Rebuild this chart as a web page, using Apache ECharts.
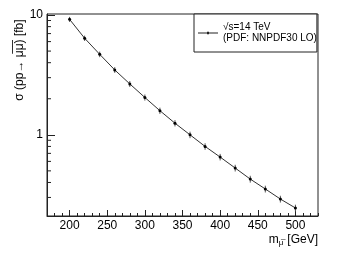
<!DOCTYPE html>
<html>
<head>
<meta charset="utf-8">
<script src="https://cdn.jsdelivr.net/npm/echarts@6/dist/echarts.min.js"></script>
<style>
html,body{margin:0;padding:0;background:#fff;}
#c{width:339px;height:254px;}
</style>
</head>
<body>
<div id="c"></div>
<script>
const massPoints = [200,220,240,260,280,300,320,340,360,380,400,420,440,460,480,500];
const sigma = [9.2,6.4,4.70,3.48,2.66,2.05,1.59,1.25,1.00,0.80,0.652,0.528,0.427,0.353,0.291,0.245];
const sigmaErr = [0.45,0.33,0.25,0.19,0.15,0.12,0.095,0.075,0.062,0.05,0.041,0.034,0.028,0.023,0.019,0.016];
const xTicks = [200,250,300,350,400,450,500];
const yTicks = [1,10];
const yMinorTicks = [0.3,0.4,0.5,0.6,0.7,0.8,0.9,2,3,4,5,6,7,8,9];
const legendLines = ['√s=14 TeV','(PDF: NNPDF30 LO)'];
const seriesName = 'sqrt(s)=14 TeV';

const FONT = "'Liberation Sans', Arial, Helvetica, sans-serif";
const X_MIN = 170, X_MAX = 530, Y_MIN = 0.21, Y_MAX = 10.2;

const chart = echarts.init(document.getElementById('c'), null, {renderer:'canvas'});
chart.setOption({
  animation:false,
  backgroundColor:'#fff',
  textStyle:{fontFamily:FONT},
  grid:{left:47, top:14, right:21, bottom:38, show:true, borderColor:'#222', borderWidth:1, containLabel:false},
  xAxis:[{
    type:'value', min:X_MIN, max:X_MAX,
    axisLine:{show:true, onZero:false, lineStyle:{color:'#222', width:1}},
    axisTick:{show:true, inside:true, length:6, customValues:xTicks, lineStyle:{color:'#222'}},
    axisLabel:{show:true, customValues:xTicks, color:'#000', fontSize:12, fontFamily:FONT, margin:4},
    splitLine:{show:false},
    name:'m{sub|μ̅}{sp| }[GeV]',
    nameLocation:'end', nameGap:0,
    nameTextStyle:{color:'#000', fontSize:12, fontFamily:FONT, align:'right', verticalAlign:'top', padding:[17,0,0,0],
      rich:{sub:{fontSize:8, fontFamily:FONT, color:'#000', padding:[6,0,0,0]}, sp:{fontSize:12, width:4}}}
  },{
    type:'value', min:X_MIN, max:X_MAX, interval:10, position:'bottom',
    axisLine:{show:false},
    axisTick:{show:true, inside:true, length:3, lineStyle:{color:'#222'}},
    axisLabel:{show:false}, splitLine:{show:false}
  }],
  yAxis:{
    type:'log', logBase:10, min:Y_MIN, max:Y_MAX,
    axisLine:{show:true, onZero:false, lineStyle:{color:'#222', width:1}},
    axisTick:{show:true, inside:true, length:8, customValues:yTicks, lineStyle:{color:'#222'}},
    axisLabel:{show:true, customValues:yTicks, color:'#000', fontSize:12, fontFamily:FONT, margin:4},
    splitLine:{show:false}, minorTick:{show:false}
  },
  legend:{
    show:true, left:194, top:14, orient:'vertical',
    backgroundColor:'#fff', borderColor:'#222', borderWidth:1, borderRadius:0,
    padding:[8,0,8,4], itemWidth:20, itemHeight:6, itemGap:0,
    textStyle:{color:'#000', fontSize:10, fontFamily:FONT, lineHeight:11},
    formatter:function(){return legendLines.join('\n');},
    data:[{name:seriesName,
      icon:'path://M0,2.6 L20,2.6 L20,3.4 L0,3.4 Z M9,1.8 L11,1.8 L11,4.2 L9,4.2 Z',
      itemStyle:{color:'#222'}}]
  },
  graphic:[{
    type:'text', x:20, y:60, rotation:Math.PI/2,
    style:{text:'σ (pp→ μ̅μ̅) [fb]', font:'12px '+FONT, fill:'#000', textAlign:'center', textVerticalAlign:'middle'}
  }],
  series:[{
    type:'custom', name:'err', xAxisIndex:0, silent:true, z:2,
    data:massPoints.map((x,i)=>[x, sigma[i], sigmaErr[i]]),
    renderItem:function(params, api){
      const x = api.value(0), v = api.value(1), e = api.value(2);
      const a = api.coord([x, v+e]), b = api.coord([x, v-e]);
      return {type:'line', shape:{x1:a[0], y1:a[1], x2:b[0], y2:b[1]}, style:{stroke:'#555', lineWidth:1}};
    }
  },{
    type:'custom', name:'yminor', xAxisIndex:0, silent:true, z:2,
    data:yMinorTicks.map(v=>[X_MIN, v]),
    renderItem:function(params, api){
      const p = api.coord([api.value(0), api.value(1)]);
      return {type:'line', shape:{x1:p[0], y1:p[1], x2:p[0]+4, y2:p[1]}, style:{stroke:'#222', lineWidth:1}};
    }
  },{
    type:'line', name:seriesName, xAxisIndex:0, z:3,
    data:massPoints.map((x,i)=>[x, sigma[i]]),
    symbol:'circle', symbolSize:3, showSymbol:true,
    lineStyle:{color:'#333', width:1}, itemStyle:{color:'#000'}
  }]
});
</script>
</body>
</html>
